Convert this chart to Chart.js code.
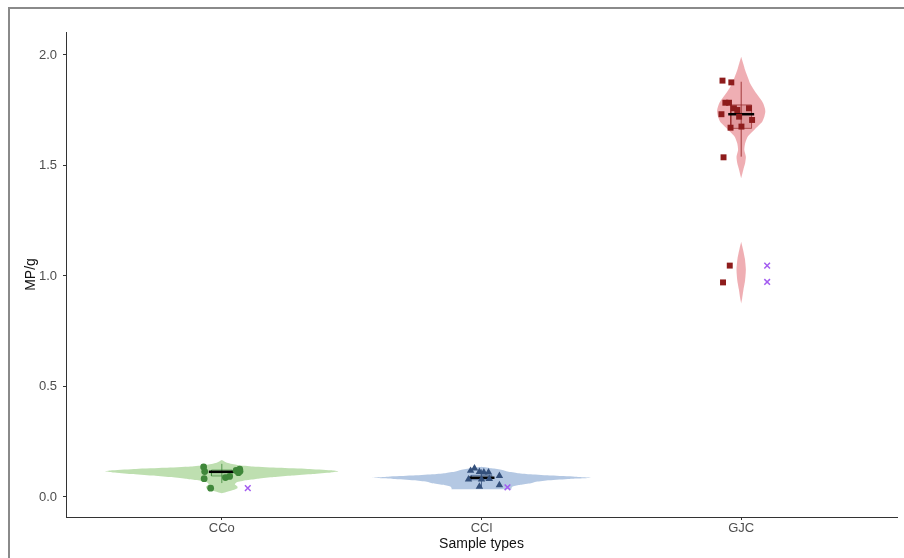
<!DOCTYPE html>
<html>
<head>
<meta charset="utf-8">
<script src="https://cdn.jsdelivr.net/npm/chart.js@4.4.1/dist/chart.umd.min.js"></script>
<style>
  html, body { margin: 0; padding: 0; background: #fff; }
  #wrap { position: relative; width: 904px; height: 558px; overflow: hidden; }
  #frame { position: absolute; left: 8px; top: 7px; right: -4px; bottom: -4px;
           border-left: 2px solid #8a8a8a; border-top: 2px solid #8a8a8a; pointer-events: none; }
  canvas { position: absolute; left: 0; top: 0; }
</style>
</head>
<body>
<div id="wrap">
  <canvas id="chart" width="904" height="558"></canvas>
  <div id="frame"></div>
</div>
<script>
const categories = ['CCo', 'CCl', 'GJC'];
const yTicks = [0, 0.5, 1.0, 1.5, 2.0];

// violin outlines, top to bottom: value and half-width (category units)
const ccoViolinY = [0.167, 0.155, 0.145, 0.138, 0.132, 0.127, 0.121, 0.116, 0.111, 0.104, 0.097, 0.090, 0.083, 0.077, 0.068, 0.058, 0.048, 0.040, 0.030, 0.022, 0.017];
const ccoViolinW = [0, 0.02, 0.06, 0.12, 0.22, 0.33, 0.42, 0.45, 0.42, 0.35, 0.27, 0.20, 0.14, 0.10, 0.06, 0.05, 0.06, 0.06, 0.04, 0.015, 0];
const cclViolinY = [0.137, 0.130, 0.122, 0.115, 0.108, 0.103, 0.097, 0.092, 0.087, 0.082, 0.076, 0.069, 0.062, 0.055, 0.047, 0.040, 0.035, 0.0349];
const cclViolinW = [0, 0.04, 0.08, 0.10, 0.14, 0.19, 0.27, 0.36, 0.425, 0.34, 0.26, 0.21, 0.19, 0.15, 0.12, 0.115, 0.115, 0];
const gjcViolinY = [1.992, 1.960, 1.932, 1.900, 1.872, 1.850, 1.827, 1.800, 1.781, 1.760, 1.743, 1.720, 1.698, 1.680, 1.661, 1.645, 1.630, 1.600, 1.570, 1.540, 1.510, 1.480, 1.442];
const gjcViolinW = [0, 0.008, 0.015, 0.025, 0.034, 0.045, 0.058, 0.075, 0.085, 0.091, 0.093, 0.089, 0.081, 0.066, 0.050, 0.036, 0.025, 0.015, 0.012, 0.018, 0.015, 0.008, 0];
const gjcLowViolinY = [1.155, 1.12, 1.08, 1.03, 0.98, 0.94, 0.90, 0.876];
const gjcLowViolinW = [0, 0.007, 0.014, 0.018, 0.015, 0.009, 0.004, 0];

// samples: jitter offset and value
const ccoJitter = [-0.070, -0.066, -0.068, -0.043, 0.014, 0.055, 0.069, 0.064, 0.070, 0.030];
const ccoValues = [0.136, 0.115, 0.083, 0.040, 0.088, 0.120, 0.126, 0.110, 0.116, 0.093];
const cclJitter = [-0.042, -0.027, -0.008, 0.009, 0.027, -0.050, 0.000, -0.008, 0.069, 0.069, 0.030];
const cclValues = [0.119, 0.130, 0.114, 0.112, 0.112, 0.080, 0.080, 0.047, 0.096, 0.054, 0.082];
const gjcJitter = [-0.072, -0.038, -0.061, -0.047, -0.076, -0.028, -0.015, 0.030, -0.008, 0.042, -0.041, 0.001, -0.068, -0.044, -0.070];
const gjcValues = [1.884, 1.876, 1.784, 1.784, 1.732, 1.759, 1.751, 1.759, 1.721, 1.706, 1.671, 1.676, 1.537, 1.047, 0.971];

// summaries per category
const boxLow = [0.095, 0.078, 1.668];
const boxHigh = [0.122, 0.098, 1.774];
const centre = [0.114, 0.087, 1.732];
const whiskerLow = [0.063, 0.045, 1.540];
const whiskerHigh = [0.150, 0.125, 1.879];

// outliers
const outlierCat = [0, 1, 2, 2];
const outlierValues = [0.040, 0.044, 1.047, 0.973];

const violinFill = ['rgba(165, 210, 145, 0.72)', 'rgba(155, 182, 218, 0.75)', 'rgba(230, 130, 138, 0.65)'];
const pointColor = ['#3f873a', '#34507c', '#8e1c1c'];
const pointStyle = ['circle', 'triangle', 'rect'];
const pointSize = [3.4, 4.3, 4.2];
const boxHalf = 0.04;
const barHalf = 0.05;
const outlierOffset = 0.1;

function violin(cat, ys, ws) {
  const left = ys.map((y, i) => ({ x: cat - ws[i], y }));
  const right = ys.map((y, i) => ({ x: cat + ws[i], y })).reverse();
  return left.concat(right);
}

const datasets = [];
const violins = [[0, ccoViolinY, ccoViolinW], [1, cclViolinY, cclViolinW], [2, gjcViolinY, gjcViolinW], [2, gjcLowViolinY, gjcLowViolinW]];
violins.forEach(([c, ys, ws]) => {
  datasets.push({
    data: violin(c, ys, ws), showLine: true, fill: 'shape', tension: 0.2,
    backgroundColor: violinFill[c], borderWidth: 0, borderColor: 'rgba(0,0,0,0)',
    pointRadius: 0, order: 6
  });
});

categories.forEach((name, c) => {
  datasets.push({
    data: [
      { x: c - boxHalf, y: boxLow[c] }, { x: c + boxHalf, y: boxLow[c] },
      { x: c + boxHalf, y: boxHigh[c] }, { x: c - boxHalf, y: boxHigh[c] },
      { x: c - boxHalf, y: boxLow[c] }
    ],
    showLine: true, fill: 'shape', backgroundColor: pointColor[c] + '26',
    borderColor: pointColor[c] + 'aa', borderWidth: 1, pointRadius: 0, order: 5
  });
  datasets.push({
    data: [{ x: c, y: whiskerLow[c] }, { x: c, y: whiskerHigh[c] }],
    showLine: true, borderColor: pointColor[c] + 'cc', borderWidth: 1, pointRadius: 0, order: 4
  });
  datasets.push({
    data: [{ x: c - barHalf, y: centre[c] }, { x: c + barHalf, y: centre[c] }],
    showLine: true, borderColor: '#000', borderWidth: 2.5, pointRadius: 0, order: 3
  });
});

const samples = [[ccoJitter, ccoValues], [cclJitter, cclValues], [gjcJitter, gjcValues]];
samples.forEach(([jit, vals], c) => {
  datasets.push({
    data: vals.map((v, i) => ({ x: c + jit[i], y: v })),
    pointStyle: pointStyle[c], pointRadius: pointSize[c],
    backgroundColor: pointColor[c], borderColor: pointColor[c], borderWidth: 0, order: 2
  });
});

datasets.push({
  data: outlierValues.map((v, i) => ({ x: outlierCat[i] + outlierOffset, y: v })),
  pointStyle: 'crossRot', pointRadius: 4, borderColor: '#a35cf0', borderWidth: 1.5, order: 1
});

const font = "'Liberation Sans', Arial, sans-serif";

new Chart(document.getElementById('chart'), {
  type: 'scatter',
  data: { datasets },
  options: {
    responsive: false,
    animation: false,
    devicePixelRatio: 1,
    layout: { padding: { top: 32, right: 7, left: 0, bottom: 0 } },
    plugins: { legend: { display: false }, tooltip: { enabled: false } },
    scales: {
      x: {
        type: 'linear', min: -0.6, max: 2.6,
        afterBuildTicks: s => { s.ticks = categories.map((_, i) => ({ value: i })); },
        afterFit: s => { s.height = 41; },
        ticks: {
          callback: v => categories[Math.round(v)], color: '#4d4d4d',
          font: { family: font, size: 13 }, padding: 1, maxRotation: 0
        },
        grid: { drawOnChartArea: false, tickLength: 3, color: '#333' },
        border: { color: '#333', width: 1 },
        title: { display: true, text: 'Sample types', color: '#111', font: { family: font, size: 14 }, padding: { top: 0, bottom: 5 } }
      },
      y: {
        type: 'linear', min: -0.0905, max: 2.104,
        afterBuildTicks: s => { s.ticks = yTicks.map(v => ({ value: v })); },
        afterFit: s => { s.width = 66; },
        ticks: {
          callback: v => v.toFixed(1), color: '#4d4d4d',
          font: { family: font, size: 13 }, padding: 6
        },
        grid: { drawOnChartArea: false, tickLength: 3, color: '#333' },
        border: { color: '#333', width: 1 },
        title: { display: true, text: 'MP/g', color: '#111', font: { family: font, size: 14 }, padding: { top: 23, bottom: 0 } }
      }
    }
  }
});
</script>
</body>
</html>
